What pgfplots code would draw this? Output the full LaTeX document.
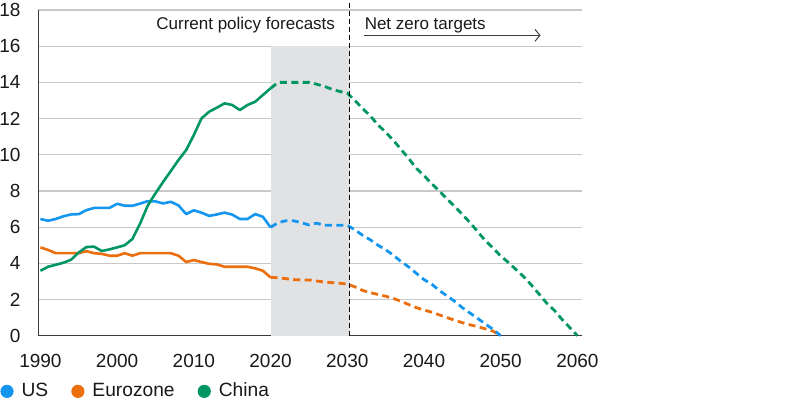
\documentclass[border=0pt]{standalone}
\usepackage{fontspec}
\setmainfont{Liberation Sans}
\usepackage{pgfplots}
\pgfplotsset{compat=1.18}
\usetikzlibrary{arrows.meta}
\definecolor{usblue}{RGB}{20,150,240}
\definecolor{ezorange}{RGB}{235,110,15}
\definecolor{cngreen}{RGB}{0,150,100}
\definecolor{band}{RGB}{225,226,228}
\definecolor{gridc}{RGB}{200,200,200}
\definecolor{axisc}{RGB}{60,60,60}
\definecolor{txt}{RGB}{25,25,25}
\begin{document}
\begin{tikzpicture}
\path[use as bounding box] (0,0) rectangle (400pt,199.5pt);
\begin{axis}[
  at={(19.25pt,31.65pt)}, anchor=south west,
  scale only axis, width=271.75pt, height=162.85pt,
  xmin=1989.75, xmax=2060.6, ymin=0, ymax=18,
  axis x line*=bottom, axis y line*=left,
  axis line style={axisc, line width=0.8pt, -},
  xtick={1990,2000,...,2060}, ytick={0,2,...,18},
  major tick length=0pt,
  ymajorgrids, grid style={gridc, line width=0.6pt},
  tick label style={font=\fontsize{9.5}{11}\selectfont, text=txt},
  /pgf/number format/assume math mode=true,
  /pgf/number format/1000 sep={},
  xticklabel style={yshift=-5.5pt},
  yticklabel style={xshift=-5.5pt},
  clip=false,
  legend style={at={(axis description cs:-0.0708,-0.171)}, anchor=west, draw=none, fill=none,
    inner sep=0pt, font=\fontsize{9.6}{11}\selectfont, text=txt,
    legend columns=-1, /tikz/every even column/.append style={column sep=9.5pt}},
  legend image code/.code={\fill[#1, draw=none] (3.3pt,0pt) circle (3.3pt);},
  solid/.style={line width=1.3pt, line join=round},
  proj/.style={line width=1.4pt, dash pattern=on 3.5pt off 2.2pt, line join=round},
]
\addlegendimage{usblue, fill=usblue}
\addlegendentry{\hspace{2pt}US}
\addlegendimage{ezorange, fill=ezorange}
\addlegendentry{\hspace{2pt}Eurozone}
\addlegendimage{cngreen, fill=cngreen}
\addlegendentry{\hspace{2pt}China}

\fill[band] (axis cs:2020.1,0) rectangle (axis cs:2030.3,16);

% Eurozone
\addplot[solid, ezorange, forget plot] coordinates {
(1990,4.88)(1991,4.74)(1992,4.56)(1993,4.56)(1994,4.56)(1995,4.56)(1996,4.67)(1997,4.56)(1998,4.52)(1999,4.42)
(2000,4.42)(2001,4.56)(2002,4.42)(2003,4.56)(2004,4.56)(2005,4.56)(2006,4.56)(2007,4.56)(2008,4.42)(2009,4.07)
(2010,4.18)(2011,4.07)(2012,3.97)(2013,3.94)(2014,3.81)(2015,3.81)(2016,3.81)(2017,3.81)(2018,3.72)(2019,3.59)(2020,3.22)};
\addplot[proj, ezorange, forget plot] coordinates {
(2020,3.22)(2021,3.2)(2022,3.15)(2023,3.1)(2024,3.08)(2025,3.08)(2026,3.02)(2027,2.97)(2028,2.93)(2029,2.9)
(2030,2.85)(2031,2.7)(2032,2.5)(2033,2.38)(2034,2.28)(2035,2.18)(2036,2.06)(2037,1.9)(2038,1.72)(2039,1.55)
(2040,1.42)(2041,1.3)(2042,1.15)(2043,1.0)(2044,0.85)(2045,0.72)(2046,0.6)(2047,0.5)(2048,0.38)(2049,0.25)(2050,0)};

% US
\addplot[solid, usblue, forget plot] coordinates {
(1990,6.45)(1991,6.35)(1992,6.45)(1993,6.6)(1994,6.7)(1995,6.72)(1996,6.94)(1997,7.06)(1998,7.06)(1999,7.06)
(2000,7.29)(2001,7.18)(2002,7.18)(2003,7.3)(2004,7.44)(2005,7.42)(2006,7.31)(2007,7.4)(2008,7.2)(2009,6.72)
(2010,6.93)(2011,6.8)(2012,6.62)(2013,6.7)(2014,6.8)(2015,6.69)(2016,6.45)(2017,6.45)(2018,6.72)(2019,6.57)(2020,5.99)};
\addplot[proj, usblue, forget plot] coordinates {
(2020,5.99)(2021,6.25)(2022,6.35)(2023,6.35)(2024,6.25)(2025,6.12)(2026,6.22)(2027,6.1)(2028,6.1)(2029,6.1)
(2030,6.1)(2031,5.85)(2032,5.55)(2033,5.3)(2034,5.0)(2035,4.75)(2036,4.45)(2037,4.1)(2038,3.8)(2039,3.45)
(2040,3.1)(2041,2.85)(2042,2.5)(2043,2.2)(2044,1.9)(2045,1.55)(2046,1.25)(2047,0.95)(2048,0.65)(2049,0.35)(2050,0)};

% China
\addplot[solid, cngreen, forget plot] coordinates {
(1990,3.59)(1991,3.81)(1992,3.92)(1993,4.03)(1994,4.2)(1995,4.6)(1996,4.9)(1997,4.92)(1998,4.68)(1999,4.77)
(2000,4.88)(2001,5.0)(2002,5.35)(2003,6.2)(2004,7.2)(2005,7.87)(2006,8.5)(2007,9.1)(2008,9.71)(2009,10.26)
(2010,11.09)(2011,12.01)(2012,12.38)(2013,12.6)(2014,12.84)(2015,12.75)(2016,12.47)(2017,12.75)(2018,12.93)(2019,13.3)(2020,13.67)};
\addplot[proj, cngreen, forget plot] coordinates {
(2020,13.67)(2021,14.0)(2022,14.0)(2023,14.0)(2024,14.0)(2025,14.0)(2026,13.9)(2027,13.78)(2028,13.62)(2029,13.5)
(2030,13.4)(2031,13.0)(2032,12.55)(2033,12.15)(2034,11.65)(2035,11.25)(2036,10.8)(2037,10.3)(2038,9.8)(2039,9.25)
(2040,8.85)(2041,8.4)(2042,8.0)(2043,7.55)(2044,7.15)(2045,6.7)(2046,6.25)(2047,5.75)(2048,5.25)(2049,4.85)
(2050,4.4)(2051,4.05)(2052,3.65)(2053,3.26)(2054,2.8)(2055,2.3)(2056,1.8)(2057,1.4)(2058,0.9)(2059,0.45)(2060,0)};

\draw[black, line width=0.5pt, dash pattern=on 2.5pt off 1.5pt] (axis cs:2030.35,0) -- (axis cs:2030.35,18.55);
\node[anchor=base east, inner sep=0pt, font=\fontsize{8.5}{10}\selectfont, text=txt] at (axis cs:2028.45,16.93) {Current policy forecasts};
\node[anchor=base west, inner sep=0pt, font=\fontsize{8.5}{10}\selectfont, text=txt] at (axis cs:2032.23,16.93) {Net zero targets};
\draw[axisc, line width=0.5pt, -{Straight Barb[length=2.5pt,width=6pt]}] (axis cs:2032.23,16.6) -- (axis cs:2055.2,16.6);
\end{axis}
\end{tikzpicture}
\end{document}
